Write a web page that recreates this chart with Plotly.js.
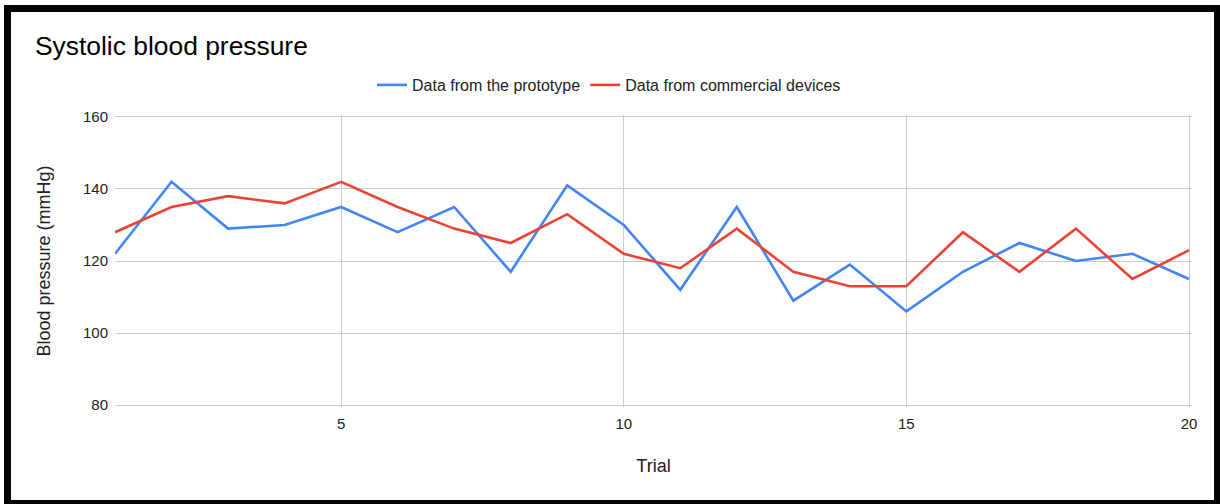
<!DOCTYPE html>
<html>
<head>
<meta charset="utf-8">
<script src="https://cdn.plot.ly/plotly-3.0.1.min.js"></script>
<style>
  html, body { margin: 0; padding: 0; background: #ffffff; width: 1220px; height: 504px; overflow: hidden; }
  #frame {
    position: absolute; left: 4px; top: 5px;
    width: 1203px; height: 488px;
    border-left: 7px solid #000; border-top: 7px solid #000;
    border-right: 6px solid #000; border-bottom: 4px solid #000;
    background: #fff;
  }
  #chart { width: 1203px; height: 488px; }
</style>
</head>
<body>
<div id="frame"><div id="chart"></div></div>
<script>
// Data
const trials = [1,2,3,4,5,6,7,8,9,10,11,12,13,14,15,16,17,18,19,20];
const prototypeValues = [122,142,129,130,135,128,135,117,141,130,112,135,109,119,106,117,125,120,122,115];
const commercialValues = [128,135,138,136,142,135,129,125,133,122,118,129,117,113,113,128,117,129,115,123];
const seriesNames = ["Data from the prototype", "Data from commercial devices"];
const xTickValues = [5,10,15,20];
const yTickValues = [80,100,120,140,160];

const fontFamily = '"Liberation Sans", Arial, sans-serif';

const traces = [
  { x: trials, y: prototypeValues, name: seriesNames[0], type: 'scatter', mode: 'lines',
    line: { color: '#4285F4', width: 2.6 }, hoverinfo: 'x+y' },
  { x: trials, y: commercialValues, name: seriesNames[1], type: 'scatter', mode: 'lines',
    line: { color: '#EA4335', width: 2.6 }, hoverinfo: 'x+y' }
];

const layout = {
  width: 1203, height: 488,
  paper_bgcolor: '#ffffff', plot_bgcolor: '#ffffff',
  font: { family: fontFamily, color: '#222222', size: 15 },
  margin: { l: 104, r: 22, t: 103, b: 93 },
  title: {
    text: 'Systolic blood pressure',
    font: { family: fontFamily, size: 26.4, color: '#000000' },
    xref: 'container', x: 24/1203, xanchor: 'left',
    yref: 'container', y: 1 - 34/488, yanchor: 'middle'
  },
  showlegend: true,
  legend: {
    orientation: 'h',
    xref: 'container', yref: 'container',
    x: 598/1203, xanchor: 'center',
    y: 1 - 73/488, yanchor: 'middle',
    font: { family: fontFamily, size: 16, color: '#222222' },
    itemwidth: 30,
    bgcolor: 'rgba(0,0,0,0)'
  },
  xaxis: {
    range: [1, 20.053],
    tickmode: 'array', tickvals: xTickValues,
    showgrid: true, gridcolor: '#cccccc', gridwidth: 1,
    zeroline: false, showline: false, ticks: '',
    ticklabelstandoff: 6,
    tickfont: { family: fontFamily, size: 15, color: '#222222' },
    title: { text: 'Trial', font: { family: fontFamily, size: 18, color: '#222222' }, standoff: 28 }
  },
  yaxis: {
    range: [79.45, 160.55],
    tickmode: 'array', tickvals: yTickValues,
    showgrid: true, gridcolor: '#cccccc', gridwidth: 1,
    zeroline: false, showline: false, ticks: '',
    ticklabelstandoff: 6,
    tickfont: { family: fontFamily, size: 15, color: '#222222' },
    title: { text: 'Blood pressure (mmHg)', font: { family: fontFamily, size: 18, color: '#222222' }, standoff: 27 }
  }
};

Plotly.newPlot('chart', traces, layout, { displayModeBar: false, staticPlot: false });
</script>
</body>
</html>
